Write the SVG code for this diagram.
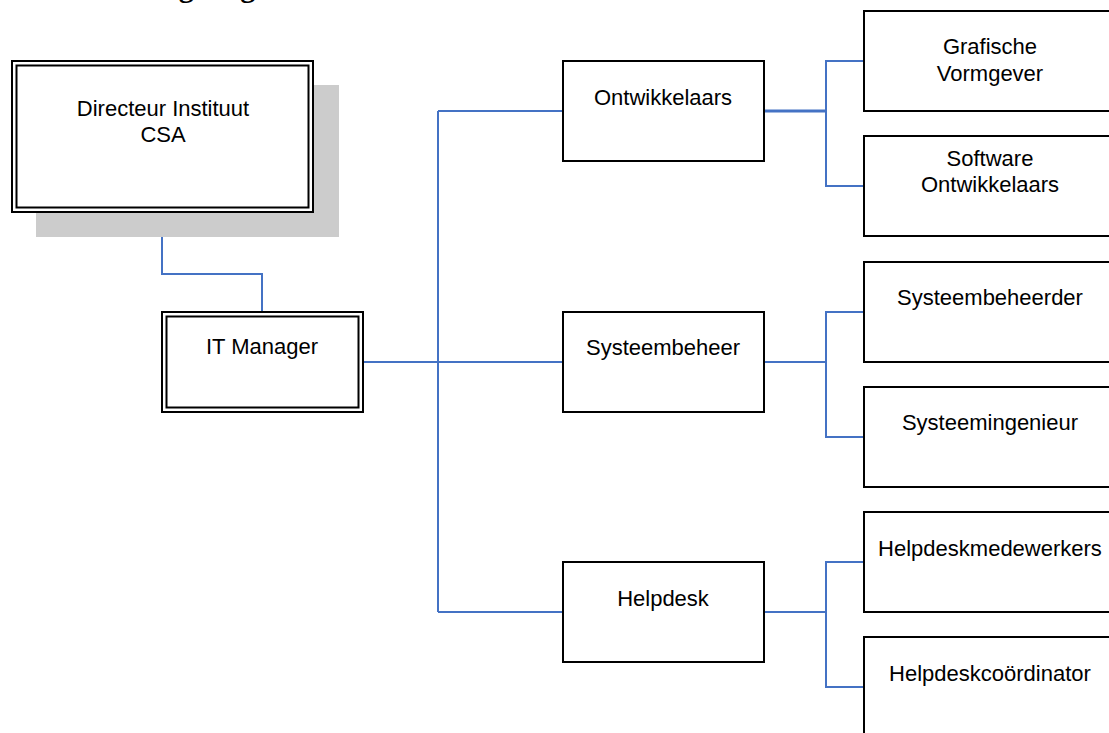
<svg xmlns="http://www.w3.org/2000/svg" width="1109" height="733" viewBox="0 0 1109 733">
  <style>
    .box { fill: #ffffff; stroke: #000000; stroke-width: 2; }
    .inner { fill: none; stroke: #000000; stroke-width: 2; }
    .shadow { fill: #cccccc; stroke: none; }
    .lbl { font-family: "Liberation Sans", Arial, sans-serif; font-size: 22px; fill: #000000; text-anchor: middle; }
    .head { font-family: "Liberation Serif", "Times New Roman", serif; font-size: 30px; font-weight: bold; fill: #000000; }
    .link { fill: none; stroke: #4472c4; stroke-width: 2; }
  </style>

  <rect width="1109" height="733" fill="#ffffff"/>

  <!-- page heading, mostly above the visible area -->
  <text class="head" x="142" y="-3">Organogram</text>

  <!-- connectors -->
  <g id="connectors">
    <path class="link" d="M162,212 V274 H262 V312"/>
    <path class="link" d="M363,362 H563"/>
    <path class="link" d="M438,111 V612"/>
    <path class="link" d="M438,111 H563"/>
    <path class="link" d="M438,612 H563"/>
    <path class="link" d="M764,111 H826" style="stroke-width:3"/>
    <path class="link" d="M864,61 H826 V186 H864"/>
    <path class="link" d="M764,362 H826"/>
    <path class="link" d="M864,312 H826 V437 H864"/>
    <path class="link" d="M764,612 H826"/>
    <path class="link" d="M864,562 H826 V687 H864"/>
  </g>

  <!-- top level -->
  <g id="directeur">
    <rect class="shadow" x="36" y="85" width="303" height="152"/>
    <rect class="box" x="12" y="61" width="301" height="151"/>
    <rect class="inner" x="16.5" y="65.5" width="292" height="142"/>
    <text class="lbl" x="163" y="116">Directeur Instituut</text>
    <text class="lbl" x="163" y="142">CSA</text>
  </g>

  <g id="it-manager">
    <rect class="box" x="162" y="312" width="201" height="100"/>
    <rect class="inner" x="166.5" y="316.5" width="192" height="91"/>
    <text class="lbl" x="262" y="354">IT Manager</text>
  </g>

  <!-- departments -->
  <g id="ontwikkelaars">
    <rect class="box" x="563" y="61" width="201" height="100"/>
    <text class="lbl" x="663" y="105">Ontwikkelaars</text>
  </g>

  <g id="systeembeheer">
    <rect class="box" x="563" y="312" width="201" height="100"/>
    <text class="lbl" x="663" y="355">Systeembeheer</text>
  </g>

  <g id="helpdesk">
    <rect class="box" x="563" y="562" width="201" height="100"/>
    <text class="lbl" x="663" y="606">Helpdesk</text>
  </g>

  <!-- roles -->
  <g id="grafische-vormgever">
    <rect class="box" x="864" y="11" width="252" height="100"/>
    <text class="lbl" x="990" y="54">Grafische</text>
    <text class="lbl" x="990" y="81">Vormgever</text>
  </g>

  <g id="software-ontwikkelaars">
    <rect class="box" x="864" y="136" width="252" height="100"/>
    <text class="lbl" x="990" y="166">Software</text>
    <text class="lbl" x="990" y="192">Ontwikkelaars</text>
  </g>

  <g id="systeembeheerder">
    <rect class="box" x="864" y="262" width="252" height="100"/>
    <text class="lbl" x="990" y="305">Systeembeheerder</text>
  </g>

  <g id="systeemingenieur">
    <rect class="box" x="864" y="387" width="252" height="100"/>
    <text class="lbl" x="990" y="430">Systeemingenieur</text>
  </g>

  <g id="helpdeskmedewerkers">
    <rect class="box" x="864" y="512" width="252" height="100"/>
    <text class="lbl" x="990" y="556">Helpdeskmedewerkers</text>
  </g>

  <g id="helpdeskcoordinator">
    <rect class="box" x="864" y="637" width="252" height="100"/>
    <text class="lbl" x="990" y="681">Helpdeskcoördinator</text>
  </g>
</svg>
